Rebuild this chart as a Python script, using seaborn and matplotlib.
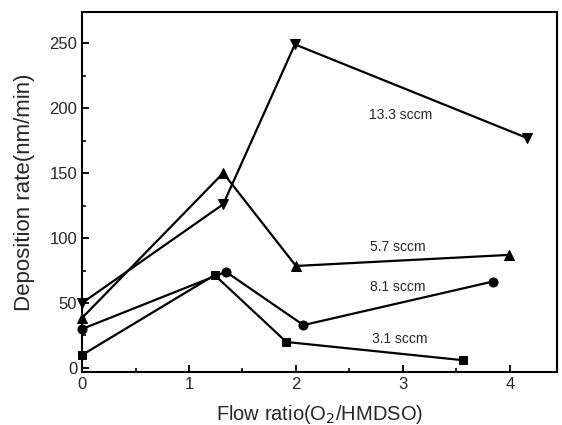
import matplotlib
matplotlib.use("Agg")
import matplotlib.pyplot as plt
import seaborn as sns
import pandas as pd
from matplotlib.ticker import MultipleLocator

# Data
x_13_3 = [0.0, 1.32, 1.99, 4.16]
y_13_3 = [50, 126, 249, 177]
x_5_7 = [0.0, 1.32, 2.0, 3.99]
y_5_7 = [38.5, 150, 78.5, 87]
x_8_1 = [0.0, 1.345, 2.07, 3.84]
y_8_1 = [30, 74, 33, 66.5]
x_3_1 = [0.0, 1.24, 1.91, 3.56]
y_3_1 = [10, 71.5, 20, 6]

labels = ["13.3 sccm", "5.7 sccm", "8.1 sccm", "3.1 sccm"]
label_x = [2.98, 2.95, 2.95, 2.97]
label_y = [194.5, 93, 62, 22]

sns.set_style("ticks")
plt.rcParams['font.family'] = ['Liberation Sans', 'DejaVu Sans']

fig = plt.figure(figsize=(5.62, 4.25), dpi=100)
ax = fig.add_axes([0.146, 0.125, 0.845, 0.847])

series = [
    (x_13_3, y_13_3, "v", 7.5),
    (x_5_7, y_5_7, "^", 7.5),
    (x_8_1, y_8_1, "o", 6.5),
    (x_3_1, y_3_1, "s", 5.5),
]
for xs, ys, m, ms in series:
    df = pd.DataFrame({"x": xs, "y": ys})
    sns.lineplot(data=df, x="x", y="y", sort=False, ax=ax, color="black",
                 marker=m, markersize=ms, markeredgecolor="black",
                 linewidth=1.6, clip_on=False, zorder=3)

for t, lx, ly in zip(labels, label_x, label_y):
    ax.text(lx, ly, t, fontsize=10, ha="center", va="center")

ax.set_xlim(0, 4.44)
ax.set_ylim(-3, 274)
ax.xaxis.set_major_locator(MultipleLocator(1))
ax.xaxis.set_minor_locator(MultipleLocator(0.5))
ax.yaxis.set_major_locator(MultipleLocator(50))
ax.yaxis.set_minor_locator(MultipleLocator(25))
ax.tick_params(which="both", direction="in", top=False, right=False, labelsize=12, color="black")
ax.tick_params(which="major", length=5, width=1.3)
ax.tick_params(which="minor", length=3, width=1.2)
for s in ax.spines.values():
    s.set_linewidth(1.5)
    s.set_color("black")

ax.set_xlabel("Flow ratio(O$_2$/HMDSO)", fontsize=14.5, labelpad=8)
ax.set_ylabel("Deposition rate(nm/min)", fontsize=16, labelpad=10)

fig.savefig("out.png", dpi=100)
